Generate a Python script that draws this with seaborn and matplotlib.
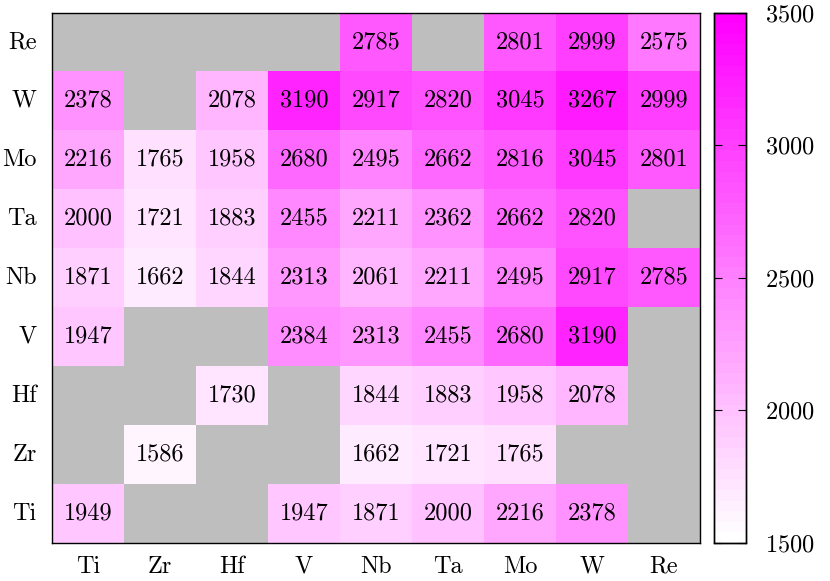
import numpy as np
import pandas as pd
import matplotlib
matplotlib.use("Agg")
import matplotlib.pyplot as plt
import seaborn as sns
from matplotlib.colors import LinearSegmentedColormap, ListedColormap

# elementos (filas de abajo hacia arriba, columnas de izquierda a derecha)
elementos = ["Ti", "Zr", "Hf", "V", "Nb", "Ta", "Mo", "W", "Re"]
nan = np.nan

fila_Ti = [1949, nan, nan, 1947, 1871, 2000, 2216, 2378, nan]
fila_Zr = [nan, 1586, nan, nan, 1662, 1721, 1765, nan, nan]
fila_Hf = [nan, nan, 1730, nan, 1844, 1883, 1958, 2078, nan]
fila_V = [1947, nan, nan, 2384, 2313, 2455, 2680, 3190, nan]
fila_Nb = [1871, 1662, 1844, 2313, 2061, 2211, 2495, 2917, 2785]
fila_Ta = [2000, 1721, 1883, 2455, 2211, 2362, 2662, 2820, nan]
fila_Mo = [2216, 1765, 1958, 2680, 2495, 2662, 2816, 3045, 2801]
fila_W = [2378, nan, 2078, 3190, 2917, 2820, 3045, 3267, 2999]
fila_Re = [nan, nan, nan, nan, 2785, nan, 2801, 2999, 2575]

filas = [fila_Ti, fila_Zr, fila_Hf, fila_V, fila_Nb, fila_Ta, fila_Mo, fila_W, fila_Re]

# tabla con la fila "Re" arriba
df = pd.DataFrame(filas, index=elementos, columns=elementos).iloc[::-1]

# mapa de color escalonado blanco -> magenta
base = LinearSegmentedColormap.from_list("wm", ["#ffffff", "#ff00ff"])
cmap = ListedColormap(base(np.linspace(0, 1, 50)))
cmap.set_bad("#bebebe")

plt.rcParams["font.family"] = "cmr10"
plt.rcParams["axes.formatter.use_mathtext"] = True

fs = 17.5
fig = plt.figure(figsize=(8.3, 5.81), dpi=100)
ax = fig.add_axes([52 / 830, 38 / 581, 648 / 830, 530.5 / 581])
cax = fig.add_axes([714 / 830, 38 / 581, 32 / 830, 530.5 / 581])

sns.heatmap(df, ax=ax, cbar_ax=cax, cmap=cmap, vmin=1500, vmax=3500,
            annot=True, fmt=".0f", annot_kws={"fontsize": fs, "color": "black"})

ax.set_facecolor("#bebebe")
ax.tick_params(axis="y", length=0, labelsize=fs, pad=11)
ax.tick_params(axis="x", length=0, labelsize=fs, pad=9)
ax.set_yticklabels(ax.get_yticklabels(), rotation=0)
ax.set_xticklabels(ax.get_xticklabels(), rotation=0)
ax.set_xlabel("")
ax.set_ylabel("")
for s in ax.spines.values():
    s.set_visible(True)
    s.set_color("black")
    s.set_linewidth(1)

cax.set_yticks([1500, 2000, 2500, 3000, 3500])
cax.tick_params(labelsize=fs, direction="in", length=6, right=True, left=True,
                width=0.8, pad=14)
for s in cax.spines.values():
    s.set_visible(True)
    s.set_color("black")
    s.set_linewidth(1)

fig.savefig("out.png", dpi=100)
